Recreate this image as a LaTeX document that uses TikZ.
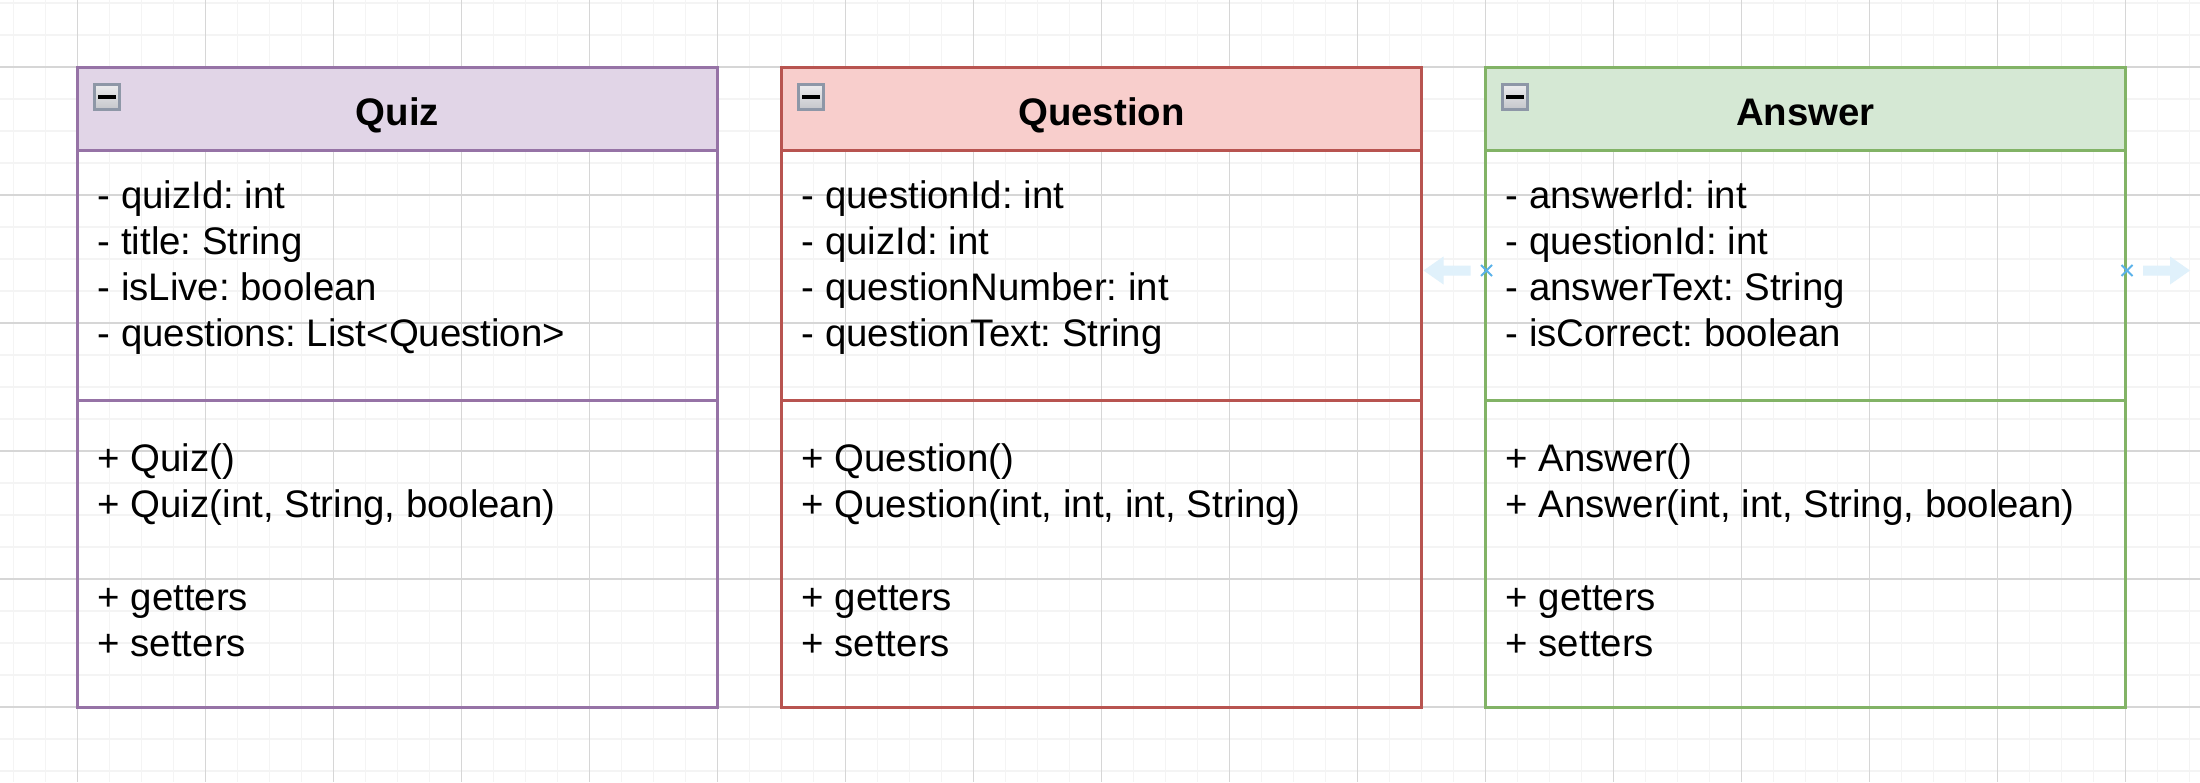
\documentclass[tikz,border=0pt]{standalone}
\usepackage{fontspec}
\setmainfont{Liberation Sans}
\usetikzlibrary{positioning,shapes.misc}
\usepackage{xcolor}

\definecolor{quizline}{HTML}{9673A6}
\definecolor{quizfill}{HTML}{E1D5E7}
\definecolor{questionline}{HTML}{B85450}
\definecolor{questionfill}{HTML}{F8CECC}
\definecolor{answerline}{HTML}{82B366}
\definecolor{answerfill}{HTML}{D5E8D4}
\definecolor{gridminor}{HTML}{F4F4F4}
\definecolor{gridmajor}{HTML}{D6D6D6}
\definecolor{foldgray}{HTML}{8E97A7}
\definecolor{foldtop}{HTML}{EDEDEF}
\definecolor{foldbottom}{HTML}{C4C5CA}
\definecolor{hoverline}{HTML}{5AB2EA}
\definecolor{hoverfill}{HTML}{E0F1FB}

\newcommand{\membersize}{\fontsize{38.4pt}{46.08pt}\selectfont\frenchspacing}

\begin{document}
\begin{tikzpicture}[x=1pt,y=-1pt,
class head/.style={draw,line width=3.2pt,minimum width=640pt,minimum height=83.2pt,
  inner sep=0pt,outer sep=0pt,text height=31.8pt,text depth=0pt,font=\membersize\bfseries},
class part/.style={draw,line width=3.2pt,minimum width=640pt,inner sep=0pt,outer sep=0pt},
attr part/.style={class part,minimum height=249.6pt},
ops part/.style={class part,minimum height=307.2pt},
member text/.style={anchor=north west,inner sep=0pt,align=left,font=\membersize},
fold box/.style={draw=foldgray,line width=3.2pt,minimum size=25.6pt,inner sep=0pt,
  outer sep=0pt,top color=foldtop,bottom color=foldbottom},
hover mark/.style={cross out,draw=hoverline,line width=2pt,minimum size=9pt,inner sep=0pt},
hover arrow/.style={fill=hoverfill}]

\useasboundingbox (0,0) rectangle (2200,782);
\fill[white] (0,0) rectangle (2200,782);

% background grid
\foreach \gx in {13.5,45.5,...,2189.5} \draw[gridminor,line width=1.8pt] (\gx,0) -- (\gx,782);
\foreach \gy in {3,35,...,771} \draw[gridminor,line width=1.8pt] (0,\gy) -- (2200,\gy);
\foreach \gx in {77.5,205.5,...,2125.5} \draw[gridmajor,line width=1.2pt] (\gx,0) -- (\gx,782);
\foreach \gy in {67,195,...,707} \draw[gridmajor,line width=1.2pt] (0,\gy) -- (2200,\gy);

% Quiz
\node[class head,fill=quizfill,draw=quizline,anchor=north west] (quiz) at (77.5,67.5) {Quiz};
\node[attr part,draw=quizline,below=0pt of quiz] (quizattr) {};
\node[ops part,draw=quizline,below=0pt of quizattr] (quizops) {};
\node[fold box,below right=16.7pt and 16.7pt of quiz.north west] (quizfold) {\rule{17.6pt}{3.2pt}};
\node[member text,below right=25.3pt and 20pt of quizattr.north west] (quizfields)
  {\strut- quizId: int\\- title: String\\- isLive: boolean\\- questions: List<Question>};
\node[member text,below right=39.1pt and 20pt of quizops.north west] (quizmethods)
  {\strut+ Quiz()\\+ Quiz(int, String, boolean)\\[46.08pt]+ getters\\+ setters};

% Question
\node[class head,fill=questionfill,draw=questionline,right=64pt of quiz] (question) {Question};
\node[attr part,draw=questionline,below=0pt of question] (questionattr) {};
\node[ops part,draw=questionline,below=0pt of questionattr] (questionops) {};
\node[fold box,below right=16.7pt and 16.7pt of question.north west] (questionfold) {\rule{17.6pt}{3.2pt}};
\node[member text,below right=25.3pt and 20pt of questionattr.north west] (questionfields)
  {\strut- questionId: int\\- quizId: int\\- questionNumber: int\\- questionText: String};
\node[member text,below right=39.1pt and 20pt of questionops.north west] (questionmethods)
  {\strut+ Question()\\+ Question(int, int, int, String)\\[46.08pt]+ getters\\+ setters};

% Answer
\node[class head,fill=answerfill,draw=answerline,right=64pt of question] (answer) {Answer};
\node[attr part,draw=answerline,below=0pt of answer] (answerattr) {};
\node[ops part,draw=answerline,below=0pt of answerattr] (answerops) {};
\node[fold box,below right=16.7pt and 16.7pt of answer.north west] (answerfold) {\rule{17.6pt}{3.2pt}};
\node[member text,below right=25.3pt and 20pt of answerattr.north west] (answerfields)
  {\strut- answerId: int\\- questionId: int\\- answerText: String\\- isCorrect: boolean};
\node[member text,below right=39.1pt and 20pt of answerops.north west] (answermethods)
  {\strut+ Answer()\\+ Answer(int, int, String, boolean)\\[46.08pt]+ getters\\+ setters};

% hover handles
\node[hover mark] (answerin) at ([xshift=1pt]answerattr.west |- 0,270.5) {};
\node[hover mark] (answerout) at ([xshift=1.5pt]answerattr.east |- 0,270.5) {};
\fill[hover arrow] ([xshift=-16pt]answerin.center) -- ++(0,-5) -- ++(-27,0) -- ++(0,-9)
  -- ++(-20,14) -- ++(20,14) -- ++(0,-9) -- ++(27,0) -- cycle;
\fill[hover arrow] ([xshift=16pt]answerout.center) -- ++(0,-5) -- ++(27,0) -- ++(0,-9)
  -- ++(20,14) -- ++(-20,14) -- ++(0,-9) -- ++(-27,0) -- cycle;
\end{tikzpicture}
\end{document}
